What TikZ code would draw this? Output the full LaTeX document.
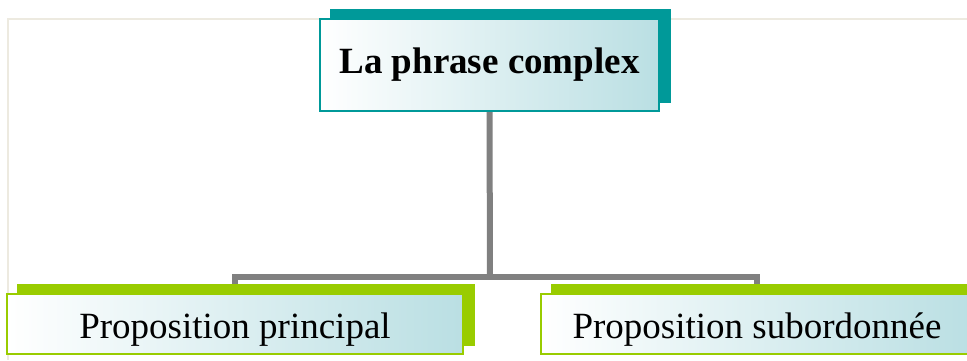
\documentclass[tikz,border=0pt]{standalone}
\usepackage{fontspec}
\setmainfont{Liberation Serif}
\usetikzlibrary{shadows,backgrounds}
\definecolor{tealbox}{RGB}{0,153,153}
\definecolor{greenbox}{RGB}{153,204,0}
\definecolor{paleteal}{RGB}{186,223,227}
\definecolor{framegray}{RGB}{237,234,224}
\definecolor{linkgray}{RGB}{128,128,128}

\begin{document}
\begin{tikzpicture}[x=1pt, y=-1pt,
    headbox/.style={draw=tealbox, line width=1.5pt, left color=white, right color=paleteal,
      inner sep=0pt, minimum width=339pt, minimum height=92pt,
      copy shadow={shadow xshift=11pt, shadow yshift=9pt, fill=tealbox, draw=tealbox},
      font=\fontsize{37pt}{40pt}\selectfont\bfseries},
    leafbox/.style={draw=greenbox, line width=1.5pt, left color=white, right color=paleteal,
      inner sep=0pt, minimum height=60pt, text height=36pt, text depth=8pt,
      copy shadow={shadow xshift=11pt, shadow yshift=9pt, fill=greenbox, draw=greenbox},
      font=\fontsize{37pt}{40pt}\selectfont},
    link/.style={draw=linkgray, line width=6pt},
    frame/.style={draw=framegray, line width=2pt}]
      \useasboundingbox (0,0) rectangle (967,360);
      \node (top) at (489.5,65) [headbox] {La phrase complex};
      \node (pp) at (235,324) [leafbox, minimum width=456pt] {Proposition principal};
      \node (ps) at (757,324) [leafbox, minimum width=432pt] {Proposition subordonnée};
      \coordinate (split) at (490,277);
      \coordinate (fa) at (967,19);
      \coordinate (fb) at (8,19);
      \coordinate (fc) at (8,360);
      \begin{scope}[on background layer]
        \draw[frame] (fa) -- (fb) -- (fc);
        \draw[link] (top.south) -- (split);
        \draw[link] (pp.north) |- (split) -| (ps.north);
      \end{scope}
    \end{tikzpicture}
\end{document}
